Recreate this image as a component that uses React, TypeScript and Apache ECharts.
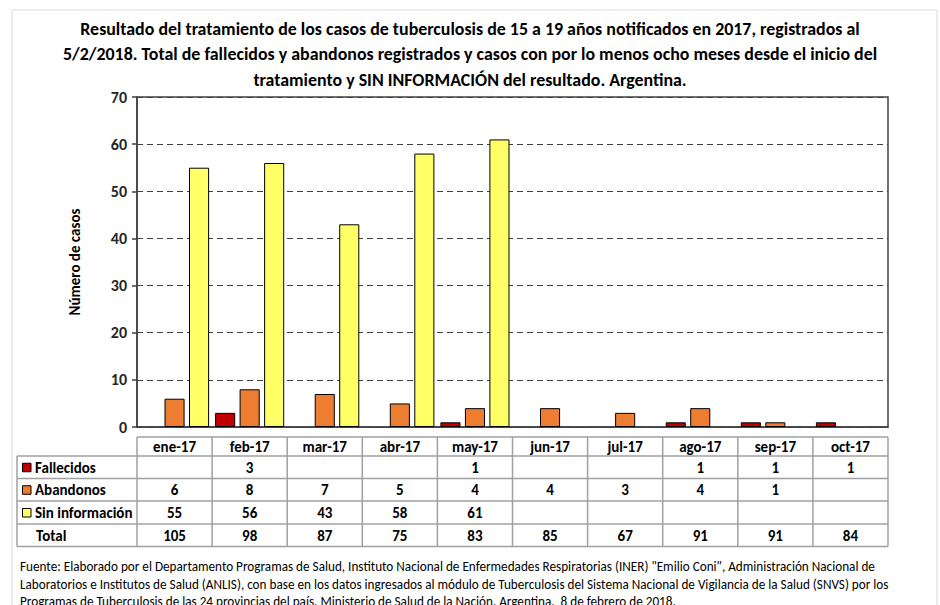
import React, { useEffect, useRef } from "react";
import * as echarts from "echarts";

const categories = ["ene-17", "feb-17", "mar-17", "abr-17", "may-17", "jun-17", "jul-17", "ago-17", "sep-17", "oct-17"];
const fallecidos: (number | null)[] = [null, 3, null, null, 1, null, null, 1, 1, 1];
const abandonos: (number | null)[] = [6, 8, 7, 5, 4, 4, 3, 4, 1, null];
const sinInformacion: (number | null)[] = [55, 56, 43, 58, 61, null, null, null, null, null];
const totales: number[] = [105, 98, 87, 75, 83, 85, 67, 91, 91, 84];
const seriesNames = ["Fallecidos", "Abandonos", "Sin información"];
const seriesColors = ["#C00000", "#ED7D31", "#FFFF66"];
const yMin = 0;
const yMax = 70;
const yInterval = 10;

const titleText =
  "Resultado del tratamiento de los casos de tuberculosis de 15 a 19 años notificados en 2017, registrados al\n" +
  "5/2/2018. Total de fallecidos y abandonos registrados y casos con por lo menos ocho meses desde el inicio del\n" +
  "tratamiento y SIN INFORMACIÓN del resultado. Argentina.";
const footerLines = [
  "Fuente: Elaborado por el Departamento Programas de Salud, Instituto Nacional de Enfermedades Respiratorias (INER) \"Emilio Coni\", Administración Nacional de",
  "Laboratorios e Institutos de Salud (ANLIS), con base en los datos ingresados al módulo de Tuberculosis del Sistema Nacional de Vigilancia de la Salud (SNVS) por los",
  "Programas de Tuberculosis de las 24 provincias del país. Ministerio de Salud de la Nación. Argentina.  8 de febrero de 2018.",
];

const FONT = "Carlito, Calibri, Lato, sans-serif";
const GRID_L = 137;
const GRID_R = 888;
const GRID_T = 97;
const GRID_B = 427;
const W = 940;
const H = 605;
const TABLE_LEFT = 17;
const ROW_Y = [437, 456, 478.5, 501, 524, 546.5];
const LINE_COLOR = "#a0a0a0";

function buildGraphics() {
  const g: any[] = [];
  const colW = (GRID_R - GRID_L) / categories.length;
  const lineStyle = { stroke: LINE_COLOR, lineWidth: 1.5 };
  g.push({ type: "rect", shape: { x: 12, y: 10, width: 925, height: 620 }, style: { fill: "none", stroke: "#d9d9d9", lineWidth: 1 }, silent: true });
  ROW_Y.forEach((y, i) => {
    const x1 = i === 0 ? GRID_L : TABLE_LEFT;
    g.push({ type: "line", shape: { x1, y1: y, x2: GRID_R, y2: y }, style: lineStyle });
  });
  for (let i = 0; i <= categories.length; i++) {
    const x = GRID_L + i * colW;
    g.push({ type: "line", shape: { x1: x, y1: ROW_Y[0], x2: x, y2: ROW_Y[5] }, style: lineStyle });
  }
  g.push({ type: "line", shape: { x1: TABLE_LEFT, y1: ROW_Y[1], x2: TABLE_LEFT, y2: ROW_Y[5] }, style: lineStyle });

  const textStyle = (x: number, y: number, text: string, align = "center") => ({
    type: "text",
    style: { x, y, text, fill: "#000", font: `bold 15px ${FONT}`, textAlign: align, textVerticalAlign: "middle" },
  });
  const rowsData = [fallecidos, abandonos, sinInformacion];
  categories.forEach((c, i) => {
    const cx = GRID_L + (i + 0.5) * colW;
    g.push(textStyle(cx, (ROW_Y[0] + ROW_Y[1]) / 2, c));
    rowsData.forEach((arr, r) => {
      const v = arr[i];
      if (v !== null && v !== undefined) g.push(textStyle(cx, (ROW_Y[r + 1] + ROW_Y[r + 2]) / 2 + 0.5, String(v)));
    });
    g.push(textStyle(cx, (ROW_Y[4] + ROW_Y[5]) / 2 + 0.5, String(totales[i])));
  });
  seriesNames.forEach((name, r) => {
    const cy = (ROW_Y[r + 1] + ROW_Y[r + 2]) / 2;
    g.push({ type: "rect", shape: { x: 22.5, y: cy - 4, width: 8.5, height: 8.5 }, style: { fill: seriesColors[r], stroke: "#000", lineWidth: 1 } });
    g.push(textStyle(35, cy + 0.5, name, "left"));
  });
  g.push(textStyle(36, (ROW_Y[4] + ROW_Y[5]) / 2 + 0.5, "Total", "left"));

  footerLines.forEach((line, i) => {
    g.push({
      type: "text",
      style: { x: 20, y: 566.5 + i * 17.5, text: line, fill: "#000", font: `13.2px ${FONT}`, textAlign: "left", textVerticalAlign: "middle" },
    });
  });
  return g;
}

export default function App() {
  const ref = useRef<HTMLDivElement>(null);
  useEffect(() => {
    if (!ref.current) return;
    const chart = echarts.init(ref.current, null, { renderer: "svg" });
    const seriesData = [fallecidos, abandonos, sinInformacion];
    chart.setOption({
      animation: false,
      backgroundColor: "#fff",
      title: {
        text: titleText,
        left: "center",
        top: 11,
        textStyle: { fontFamily: FONT, fontWeight: "bold", fontSize: 17.9, lineHeight: 25.5, color: "#000" },
      },
      grid: {
        left: GRID_L,
        right: W - GRID_R,
        top: GRID_T,
        bottom: H - GRID_B,
        show: true,
        borderColor: "#404040",
        borderWidth: 1.5,
        containLabel: false,
      },
      xAxis: {
        type: "category",
        data: categories,
        axisLine: { lineStyle: { color: "#404040", width: 1.5 } },
        axisTick: { show: false },
        axisLabel: { show: false },
      },
      yAxis: {
        type: "value",
        min: yMin,
        max: yMax,
        interval: yInterval,
        name: "Número de casos",
        nameLocation: "middle",
        nameRotate: 90,
        nameGap: 55,
        nameTextStyle: { fontFamily: FONT, fontWeight: "bold", fontSize: 15, color: "#000" },
        axisLine: { show: true, lineStyle: { color: "#404040", width: 1.5 } },
        axisTick: { show: true, length: 5, lineStyle: { color: "#404040", width: 1.5 } },
        axisLabel: { fontFamily: FONT, fontWeight: "bold", fontSize: 16, color: "#262626", margin: 10 },
        splitLine: { show: true, lineStyle: { color: "#404040", type: [6, 4], width: 1.2 } },
      },
      series: seriesNames.map((name, i) => ({
        name,
        type: "bar",
        data: seriesData[i],
        barCategoryGap: "8%",
        barGap: "22%",
        itemStyle: { color: seriesColors[i], borderColor: "#000", borderWidth: 1 },
      })),
      graphic: buildGraphics(),
    });
    return () => chart.dispose();
  }, []);
  return <div ref={ref} style={{ width: W, height: H, position: "absolute", left: 0, top: 0 }} />;
}
